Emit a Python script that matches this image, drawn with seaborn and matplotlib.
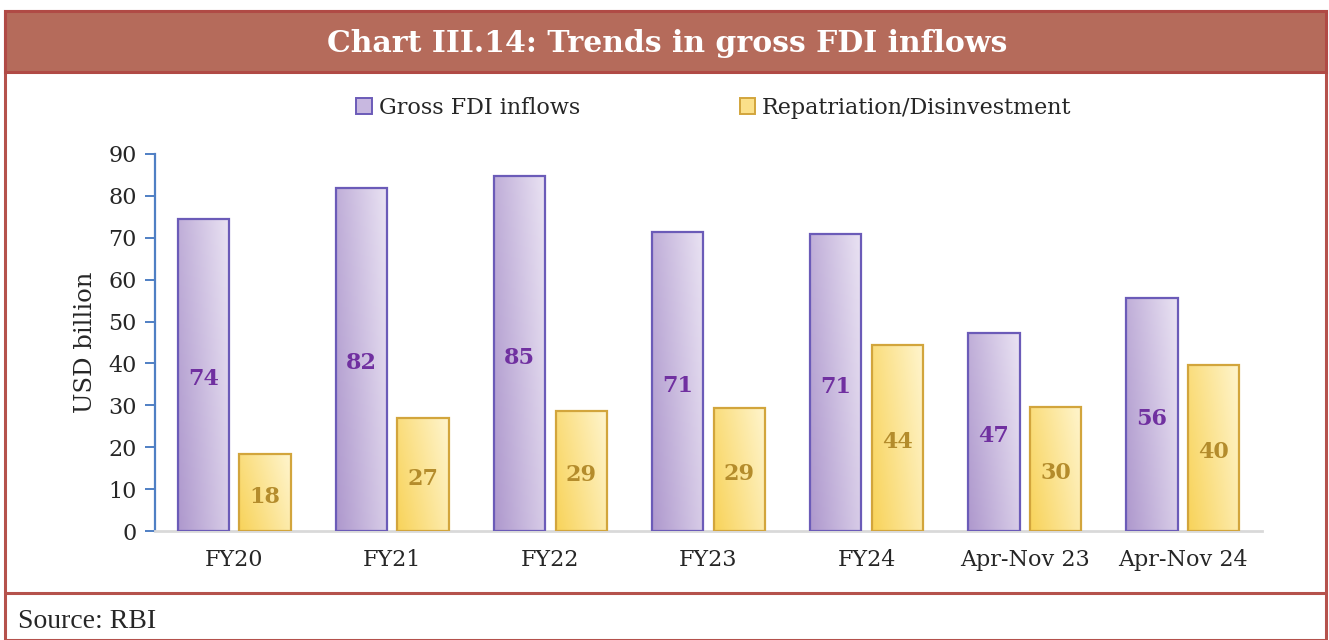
import numpy as np
import pandas as pd
import matplotlib
matplotlib.use("Agg")
import matplotlib.pyplot as plt
import seaborn as sns
from matplotlib.patches import Rectangle, Patch
from matplotlib.colors import LinearSegmentedColormap

categories = ["FY20", "FY21", "FY22", "FY23", "FY24", "Apr-Nov 23", "Apr-Nov 24"]
gross_fdi = [74.4, 82.0, 84.8, 71.3, 70.9, 47.2, 55.6]
repatriation = [18.4, 27.0, 28.6, 29.3, 44.4, 29.7, 39.6]
series_names = ["Gross FDI inflows", "Repatriation/Disinvestment"]
yticks = [0, 10, 20, 30, 40, 50, 60, 70, 80, 90]

df = pd.DataFrame({
    "cat": categories * 2,
    "val": gross_fdi + repatriation,
    "series": [series_names[0]] * len(categories) + [series_names[1]] * len(categories),
})

sns.set_theme(style="white")
plt.rcParams['font.family'] = ['DejaVu Serif']

W, H = 1329, 640
fig = plt.figure(figsize=(W / 100, H / 100), dpi=100)

def fx(px):
    return px / W

def fy(py):
    return 1 - py / H

ax = fig.add_axes([fx(155), fy(531), fx(1262) - fx(155), fy(154) - fy(531)])

sns.barplot(data=df, x="cat", y="val", hue="series", order=categories,
            hue_order=series_names, palette=["#C8B8E0", "#FBE08A"],
            width=0.78, gap=0.17, ax=ax, legend=False, saturation=1)

ax.set_xlim(-0.5, len(categories) - 0.5)
ax.set_ylim(0, 90)
ax.set_yticks(yticks)

cmaps = [
    LinearSegmentedColormap.from_list("p", ["#AE98CD", "#EAE3F3"]),
    LinearSegmentedColormap.from_list("y", ["#F8D35A", "#FFF5CE"]),
]
label_colors = ["#7030A0", "#B48C2C"]
edgecols = ["#6B5BB8", "#D2A53C"]

n = len(categories)
patches = list(ax.patches)
for i, p in enumerate(patches):
    s = i // n
    x0, y0 = p.get_x(), p.get_y()
    w, h = p.get_width(), p.get_height()
    gx = np.linspace(0, 1, 60)
    gy = np.linspace(0, 1, 60)
    X, Y = np.meshgrid(gx, gy)
    grad = 0.7 * X + 0.3 * Y
    im = ax.imshow(grad, cmap=cmaps[s], extent=[x0, x0 + w, y0, y0 + h],
                   origin="lower", aspect="auto", zorder=2, vmin=0, vmax=1)
    im.set_clip_path(p)
    p.set_facecolor("none")
    p.set_edgecolor(edgecols[s])
    p.set_linewidth(1.6)
    p.set_zorder(3)
    ax.text(x0 + w / 2, y0 + h / 2 - 1, f"{round(h)}", ha="center", va="center",
            fontsize=16, fontweight="bold", color=label_colors[s], zorder=4)

for side in ["top", "right"]:
    ax.spines[side].set_visible(False)
ax.spines["left"].set_color("#4F7FC4")
ax.spines["left"].set_linewidth(1.6)
ax.spines["bottom"].set_color("#D9D9D9")
ax.spines["bottom"].set_linewidth(2)
ax.tick_params(axis="y", which="major", direction="out", length=7, width=1.4,
               color="#4F7FC4", labelsize=16, labelcolor="#262626", left=True, pad=6)
ax.tick_params(axis="x", length=0, labelsize=16, labelcolor="#262626", pad=13)
ax.set_xlabel("")
ax.set_ylabel("USD billion", fontsize=17.5, color="#262626", labelpad=8)
ax.grid(False)

# legend
handles = [Patch(facecolor="#C8B8E0", edgecolor="#6B5BB8", linewidth=1.4),
           Patch(facecolor="#FBE08A", edgecolor="#D2A53C", linewidth=1.4)]
fig.legend(handles, series_names, loc="center", bbox_to_anchor=(fx(714), fy(108)),
           ncol=2, frameon=False, fontsize=16, handlelength=0.7, handleheight=0.7,
           handletextpad=0.3, columnspacing=7.2, labelcolor="#262626")

# frame and title band
fig.patches.append(Rectangle((fx(5), fy(640)), fx(1326) - fx(5), fy(11) - fy(640),
                             transform=fig.transFigure, facecolor="none",
                             edgecolor="#B5524C", linewidth=2.2, zorder=0))
fig.patches.append(Rectangle((fx(5), fy(72)), fx(1326) - fx(5), fy(11) - fy(72),
                             transform=fig.transFigure, facecolor="#B56B5B",
                             edgecolor="#B04A45", linewidth=2.2, zorder=1))
fig.lines.append(plt.Line2D([fx(5), fx(1326)], [fy(593), fy(593)],
                            transform=fig.transFigure, color="#B5524C", linewidth=2.2))
fig.text(fx(667), fy(43), "Chart III.14: Trends in gross FDI inflows", ha="center",
         va="center", color="white", fontsize=21.5, fontweight="bold")
fig.text(fx(18), fy(621), "Source: RBI", ha="left", va="center", fontsize=20,
         color="#262626", family=["Liberation Serif", "DejaVu Serif"])

fig.savefig("out.png", dpi=100)
